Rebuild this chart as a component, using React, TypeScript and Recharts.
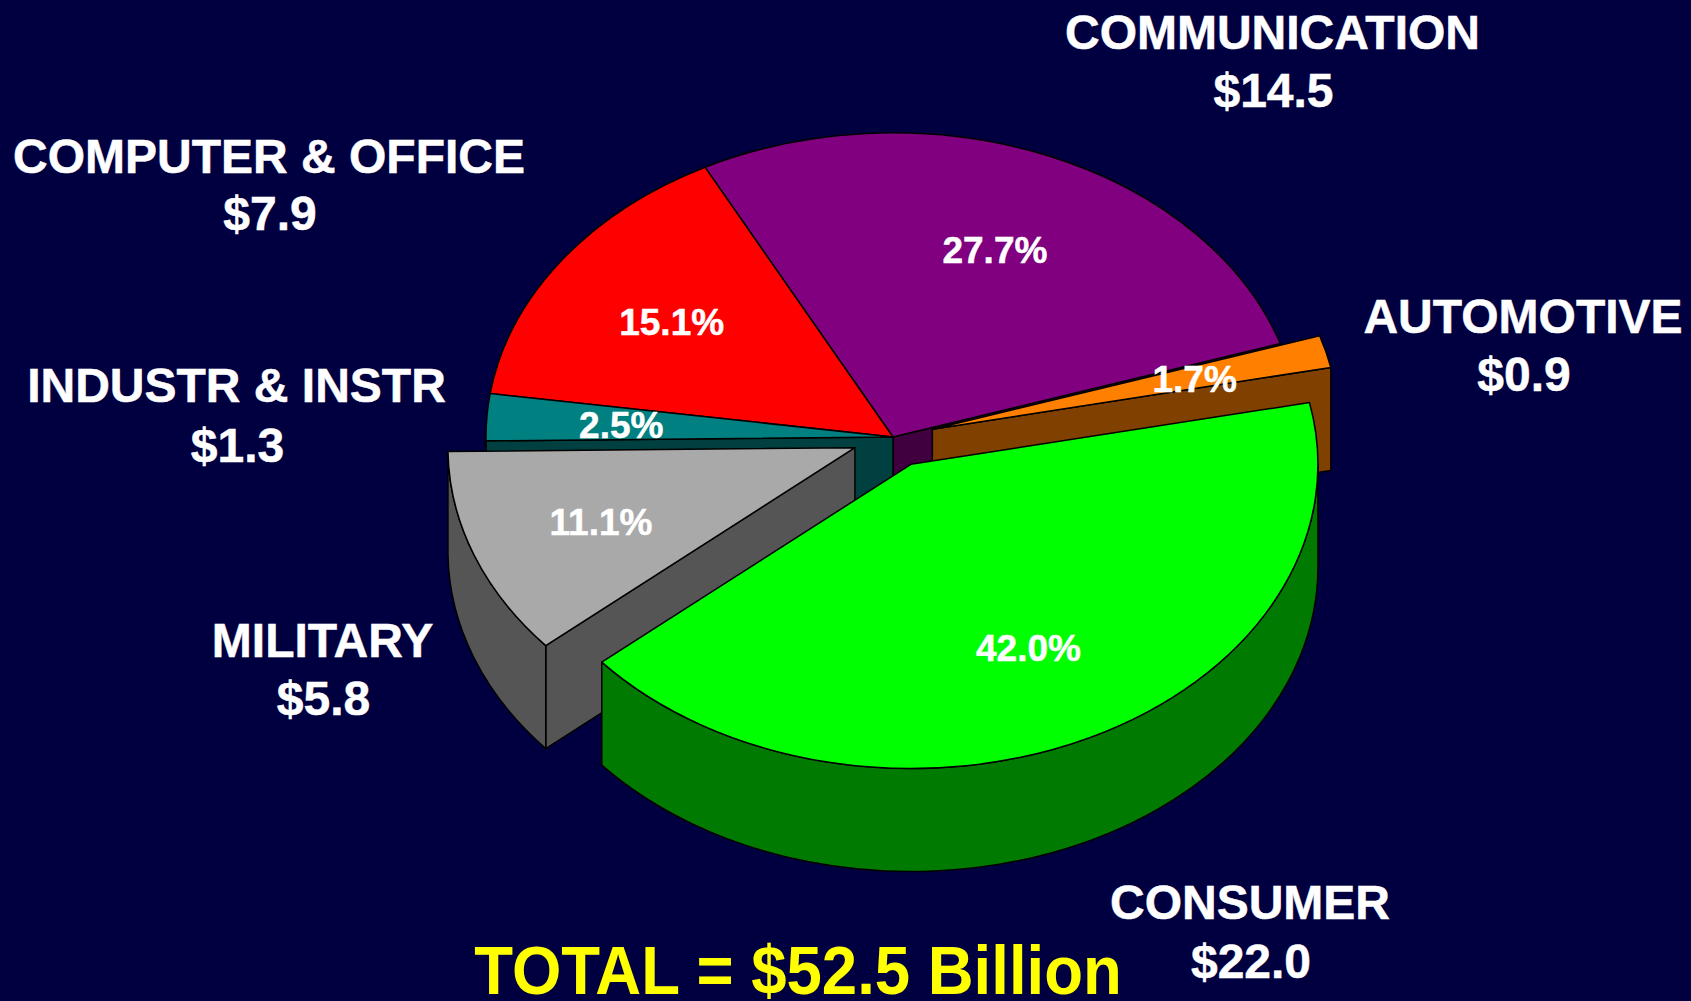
import React from 'react';
import { PieChart, Pie } from 'recharts';

/* slices in angular order, counter-clockwise from the automotive/communication edge */
const CATEGORIES = ['COMMUNICATION', 'COMPUTER & OFFICE', 'INDUSTR & INSTR', 'MILITARY', 'CONSUMER', 'AUTOMOTIVE'];
const BILLIONS = [14.5, 7.9, 1.3, 5.8, 22.0, 0.9];
const PERCENTS = ['27.7%', '15.1%', '2.5%', '11.1%', '42.0%', '1.7%'];
const AMOUNT_LABELS = ['$14.5', '$7.9', '$1.3', '$5.8', '$22.0', '$0.9'];
const EXPLODED = ['MILITARY', 'CONSUMER', 'AUTOMOTIVE'];
const TOTAL_LABEL = 'TOTAL = $52.5 Billion';

const TOP_COLORS = ['#800080', '#FF0000', '#008080', '#A9A9A9', '#00FF00', '#FF8000'];
const WALL_COLORS = ['#400040', '#800000', '#004040', '#555555', '#007A00', '#804000'];

/* outer label anchors: center x, first baseline, second baseline */
const LABEL_ANCHORS = [
  [1272.5, 49, 107],
  [269, 173, 230],
  [236.5, 402, 462],
  [322.5, 657, 715],
  [1250, 919, 978],
  [1523, 333, 391],
];
/* small nudges on the percent labels, the reference places them by hand */
const PERCENT_NUDGE = [
  [-1, 1],
  [0, 2],
  [-1, 1],
  [0, 3],
  [-2, 2],
  [0, 2],
];

const W = 1691;
const H = 1001;
const CX = 893;
const CY = 437;
const RX = 407;
const SQUASH = 0.7475;
const DEPTH = 103;
const EXPLODE = 0.1;
const START = 17.9;

/* draw order: back slices first, exploded ones on top */
const LAYERS = [
  ['COMMUNICATION', 'COMPUTER & OFFICE', 'INDUSTR & INSTR'],
  ['AUTOMOTIVE'],
  ['MILITARY'],
  ['CONSUMER'],
];

const FONT = "'Liberation Sans', Arial, sans-serif";

const sliceData = CATEGORIES.map((name, i) => ({ name, value: BILLIONS[i] }));
const rad = (a: number) => (a * Math.PI) / 180;

const offsetOf = (name: string, mid: number) => {
  const k = EXPLODED.includes(name) ? EXPLODE : 0;
  return { x: k * RX * Math.cos(rad(mid)), y: -k * RX * SQUASH * Math.sin(rad(mid)) };
};

function Slice3D(props: any) {
  const { cx, cy, outerRadius, startAngle, endAngle, name, layer } = props;
  if (!layer.includes(name)) return null;
  const i = CATEGORIES.indexOf(name);
  const s = Math.min(startAngle, endAngle);
  const e = Math.max(startAngle, endAngle);
  const off = offsetOf(name, (s + e) / 2);
  const rx = outerRadius;
  const ry = outerRadius * SQUASH;
  const ox = cx + off.x;
  const oy = cy + off.y;
  const pt = (a: number, dz = 0) => `${ox + rx * Math.cos(rad(a))} ${oy - ry * Math.sin(rad(a)) + dz}`;
  const arc = (a: number, b: number, dz = 0, sweep = 0) =>
    `A ${rx} ${ry} 0 ${Math.abs(b - a) > 180 ? 1 : 0} ${sweep} ${pt(b, dz)}`;

  const walls: string[] = [];
  // radial edges facing the viewer
  [s, e].forEach((a, n) => {
    const c = Math.cos(rad(a));
    if ((n === 0 && c > 0) || (n === 1 && c < 0)) {
      walls.push(`M ${ox} ${oy} L ${pt(a)} L ${pt(a, DEPTH)} L ${ox} ${oy + DEPTH} Z`);
    }
  });
  // rim, front half of the ellipse only
  [[180, 360], [540, 720]].forEach(([lo, hi]) => {
    const a = Math.max(s, lo);
    const b = Math.min(e, hi);
    if (b > a) walls.push(`M ${pt(a)} ${arc(a, b)} L ${pt(b, DEPTH)} ${arc(b, a, DEPTH, 1)} Z`);
  });

  return (
    <g stroke="#000000" strokeWidth={1.5} strokeLinejoin="round">
      {walls.map((d, n) => (
        <path key={n} d={d} fill={WALL_COLORS[i]} />
      ))}
      <path d={`M ${ox} ${oy} L ${pt(s)} ${arc(s, e)} Z`} fill={TOP_COLORS[i]} />
    </g>
  );
}

function SliceLabels(props: any) {
  const { name, midAngle, cx, cy, outerRadius } = props;
  const i = CATEGORIES.indexOf(name);
  const off = offsetOf(name, midAngle);
  const px = cx + off.x + (2 / 3) * outerRadius * Math.cos(rad(midAngle)) + PERCENT_NUDGE[i][0];
  const py = cy + off.y - (2 / 3) * outerRadius * SQUASH * Math.sin(rad(midAngle)) + PERCENT_NUDGE[i][1];
  const [ax, ay, ay2] = LABEL_ANCHORS[i];
  return (
    <g fill="#FFFFFF" stroke="#FFFFFF" strokeWidth={0.5} fontFamily={FONT} fontWeight="bold" textAnchor="middle">
      <text x={px} y={py + 13} fontSize={37}>{PERCENTS[i]}</text>
      <text x={ax} y={ay} fontSize={48}>{name}</text>
      <text x={ax + 1} y={ay2} fontSize={48}>{AMOUNT_LABELS[i]}</text>
    </g>
  );
}

export default function App() {
  return (
    <div style={{ position: 'absolute', left: 0, top: 0, width: W, height: H, background: '#000040', overflow: 'hidden' }}>
      <PieChart width={W} height={H} margin={{ top: 0, right: 0, bottom: 0, left: 0 }}>
        {LAYERS.map((layer, n) => (
          <Pie
            key={n}
            data={sliceData}
            dataKey="value"
            nameKey="name"
            cx={CX}
            cy={CY}
            innerRadius={0}
            outerRadius={RX}
            startAngle={START}
            endAngle={START + 360}
            isAnimationActive={false}
            shape={(p: any) => <Slice3D {...p} layer={layer} />}
          />
        ))}
        <Pie
          data={sliceData}
          dataKey="value"
          nameKey="name"
          cx={CX}
          cy={CY}
          innerRadius={0}
          outerRadius={RX}
          startAngle={START}
          endAngle={START + 360}
          isAnimationActive={false}
          shape={() => null}
          labelLine={false}
          label={(p: any) => <SliceLabels {...p} />}
        />
      </PieChart>
      <div
        style={{
          position: 'absolute', left: 0, width: 1596, top: 947, height: 50, textAlign: 'center',
          color: '#FFFF00', fontFamily: FONT, fontWeight: 'bold',
          fontSize: 63.5, lineHeight: '50px', whiteSpace: 'nowrap',
          transform: 'scaleY(1.07)', transformOrigin: '50% 80%',
        }}
      >
        {TOTAL_LABEL}
      </div>
    </div>
  );
}
